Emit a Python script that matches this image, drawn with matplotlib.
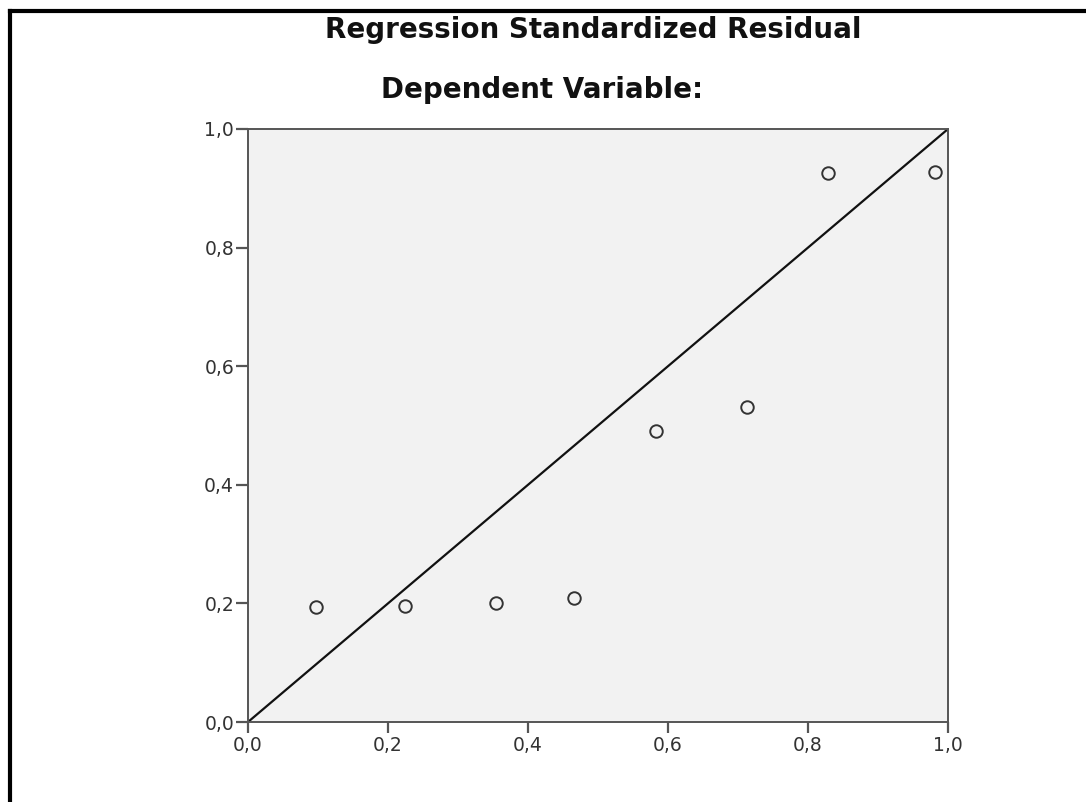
import matplotlib
matplotlib.use("Agg")
import matplotlib.pyplot as plt
import matplotlib.ticker as mticker
from matplotlib.lines import Line2D

# ── data ───────────────────────────────────────────────────────────────────
observed_cum_prob = [0.097, 0.224, 0.354, 0.466, 0.583, 0.713, 0.829, 0.982]
expected_cum_prob = [0.194, 0.195, 0.200, 0.209, 0.491, 0.532, 0.926, 0.927]
tick_values = [0.0, 0.2, 0.4, 0.6, 0.8, 1.0]

title_main = "Regression Standardized Residual"
title_sub = "Dependent Variable:"

plt.rcParams["font.family"] = ["DejaVu Sans"]

fig = plt.figure(figsize=(10.86, 8.02), dpi=100)
fig.patch.set_facecolor("white")

ax = fig.add_axes([248 / 1086, 80 / 802, 700 / 1086, 593 / 802])
ax.set_facecolor("#f2f2f2")

# reference diagonal
ax.plot([0, 1], [0, 1], color="#111111", linewidth=1.6, zorder=2)

# P-P points
ax.plot(observed_cum_prob, expected_cum_prob, linestyle="none", marker="o",
        markersize=9, markerfacecolor="none", markeredgecolor="#333333",
        markeredgewidth=1.4, zorder=3, clip_on=False)

ax.set_xlim(0, 1)
ax.set_ylim(0, 1)
ax.set_xticks(tick_values)
ax.set_yticks(tick_values)
fmt = mticker.FuncFormatter(lambda v, _: f"{v:.1f}".replace(".", ","))
ax.xaxis.set_major_formatter(fmt)
ax.yaxis.set_major_formatter(fmt)

for s in ax.spines.values():
    s.set_color("#555555")
    s.set_linewidth(1.4)

ax.tick_params(axis="x", direction="out", length=8, width=1.6, color="#555555",
               labelsize=13.5, labelcolor="#333333", pad=2)
ax.tick_params(axis="y", direction="out", length=9, width=1.6, color="#555555",
               labelsize=13.5, labelcolor="#333333", pad=1)

# titles
fig.text(593 / 1086, 1 - 30 / 802, title_main, ha="center", va="center",
         fontsize=20, fontweight="bold", color="#111111")
fig.text(542 / 1086, 1 - 90 / 802, title_sub, ha="center", va="center",
         fontsize=20, fontweight="bold", color="#111111")

# screenshot frame (top and left edges only)
fig.add_artist(Line2D([9.5 / 1086, 1.0], [1 - 10.5 / 802, 1 - 10.5 / 802],
                      color="black", linewidth=3, transform=fig.transFigure))
fig.add_artist(Line2D([9.5 / 1086, 9.5 / 1086], [0.0, 1 - 10.5 / 802],
                      color="black", linewidth=3, transform=fig.transFigure))

fig.savefig("out.png", dpi=100)
